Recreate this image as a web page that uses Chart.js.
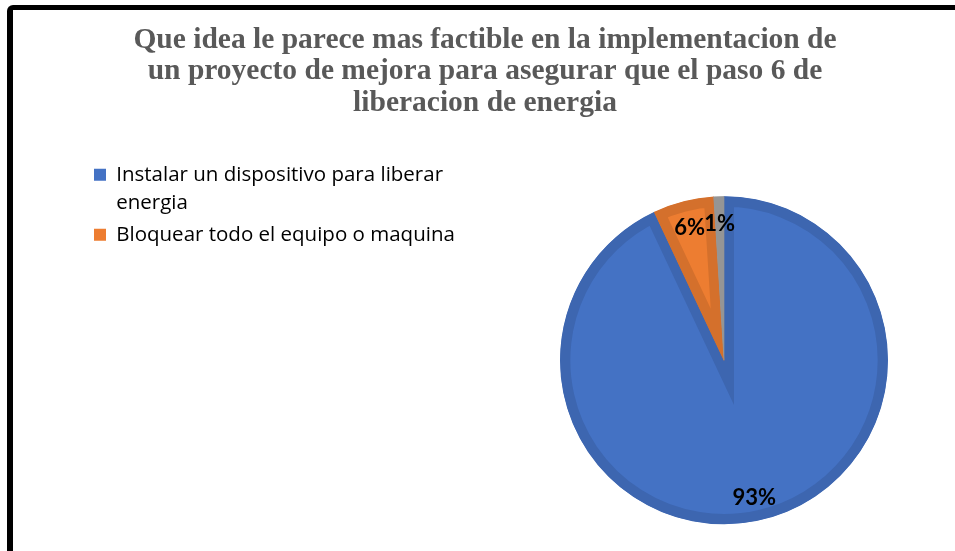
<!DOCTYPE html>
<html>
<head>
<meta charset="utf-8">
<script src="https://cdn.jsdelivr.net/npm/chart.js@4/dist/chart.umd.min.js"></script>
<style>
  html, body { margin: 0; padding: 0; background: #ffffff; overflow: hidden; }
  #wrap { position: relative; width: 955px; height: 551px; overflow: hidden; background: #fff; }
  #frame { position: absolute; left: 7px; top: 5px; width: 1200px; height: 800px;
           border-left: 6px solid #000; border-top: 5px solid #000; border-top-left-radius: 6px;
           pointer-events: none; }
  canvas { position: absolute; left: 0; top: 0; }
</style>
</head>
<body>
<div id="wrap">
  <canvas id="c" width="955" height="560"></canvas>
  <div id="frame"></div>
</div>
<script>
// ---- data ----
const categories = [
  ['Instalar un dispositivo para liberar', 'energia'],
  ['Bloquear todo el equipo o maquina'],
  ['Otro']
];
const values = [93, 6, 1];
const legendShown = [0, 1];
const titleLines = [
  'Que idea le parece mas factible en la implementacion de',
  'un proyecto de mejora para asegurar que el paso 6 de',
  'liberacion de energia'
];
const fillColors = ['#4472C4', '#ED7D31', '#A5A5A5'];
const edgeColors = ['#3D66B0', '#D4702C', '#959595'];

// ---- layout constants ----
const PAD_L = 90, PAD_R = 75;
const PIE_AREA_LEFT = 568;

const labelPlugin = {
  id: 'sliceLabels',
  afterDatasetsDraw(chart) {
    const ctx = chart.ctx;
    const meta = chart.getDatasetMeta(0);
    ctx.save();
    ctx.font = 'bold 22px Lato';
    ctx.fillStyle = '#000000';
    ctx.textAlign = 'center';
    ctx.textBaseline = 'middle';
    meta.data.forEach((arc, i) => {
      const p = arc.getProps(['x', 'y', 'startAngle', 'endAngle', 'outerRadius'], true);
      const mid = (p.startAngle + p.endAngle) / 2;
      const r = p.outerRadius * 0.845;
      ctx.fillText(values[i] + '%', p.x + Math.cos(mid) * r, p.y + 2 + Math.sin(mid) * r);
    });
    ctx.restore();
  }
};

new Chart(document.getElementById('c'), {
  type: 'pie',
  data: {
    labels: categories,
    datasets: [{
      data: values,
      backgroundColor: fillColors,
      borderColor: edgeColors,
      borderWidth: 10,
      borderAlign: 'inner',
      borderJoinStyle: 'miter',
      hoverOffset: 0
    }]
  },
  options: {
    responsive: false,
    animation: false,
    radius: 164,
    layout: { padding: { left: PAD_L, right: PAD_R, top: 0, bottom: 0 } },
    scales: {
      spacer: {
        type: 'linear',
        position: 'left',
        display: true,
        grid: { display: false, drawTicks: false },
        border: { display: false },
        ticks: { display: false },
        afterFit: (scale) => {
          scale.width = Math.max(0, PIE_AREA_LEFT - PAD_L - scale.chart.legend.width);
        }
      }
    },
    plugins: {
      tooltip: { enabled: false },
      title: {
        display: true,
        text: titleLines,
        color: '#595959',
        font: { family: 'Liberation Serif', weight: 'bold', size: 29.5, lineHeight: 1.068 },
        padding: { top: 24.25, bottom: 41.75 }
      },
      legend: {
        position: 'left',
        align: 'start',
        fullSize: false,
        maxWidth: 600,
        labels: {
          boxWidth: 12,
          boxHeight: 12,
          padding: 4,
          color: '#595959',
          font: { family: 'Open Sans', size: 20.5, lineHeight: 1.366 },
          generateLabels: (chart) => legendShown.map(i => ({
            text: categories[i],
            fillStyle: fillColors[i],
            strokeStyle: fillColors[i],
            lineWidth: 0,
            hidden: false,
            index: i
          }))
        }
      }
    }
  },
  plugins: [labelPlugin]
});
</script>
</body>
</html>
